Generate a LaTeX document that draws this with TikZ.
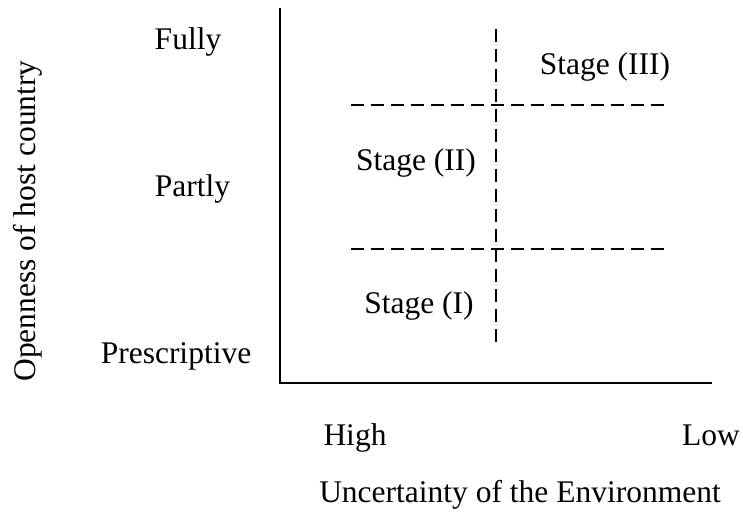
\documentclass[tikz,border=0pt]{standalone}
\usepackage{fontspec}
\setmainfont{Liberation Serif}
\begin{document}
\begin{tikzpicture}[x=0.5pt,y=-0.5pt,
  lbl/.style={anchor=base,inner sep=0pt,font=\fontsize{15.75}{18}\selectfont},
  axisline/.style={line width=0.8pt,black},
  dashline/.style={line width=0.7pt,black,dash pattern=on 6.5pt off 3.5pt}]
\useasboundingbox (0,0) rectangle (743,513);
% axes
\coordinate (ytop) at (280,8);
\coordinate (orig) at (280,383);
\coordinate (xend) at (712,383);
\draw[axisline] (ytop) -- (orig) -- (xend);
% dashed grid
\coordinate (vtop) at (496,29);
\coordinate (vbot) at (496,343);
\coordinate (h1l) at (351,105);
\coordinate (h1r) at (665,105);
\coordinate (h2l) at (351,249);
\coordinate (h2r) at (665,249);
\draw[dashline] (vtop) -- (vbot);
\draw[dashline] (h1l) -- (h1r);
\draw[dashline] (h2l) -- (h2r);
% stage labels
\node[lbl] (s3) at (605,75) {Stage (III)};
\node[lbl] (s2) at (416,170) {Stage (II)};
\node[lbl] (s1) at (419,313) {Stage (I)};
% y levels
\node[lbl] (fully) at (188,50) {Fully};
\node[lbl] (partly) at (192.5,197) {Partly};
\node[lbl] (presc) at (176,363) {Prescriptive};
\node[lbl,rotate=90] (ylab) at (35,221) {Openness of host country};
% x levels
\node[lbl] (high) at (355,445) {High};
\node[lbl] (low) at (711,445) {Low};
\node[lbl] (xlab) at (520,502) {Uncertainty of the Environment};
\end{tikzpicture}
\end{document}
